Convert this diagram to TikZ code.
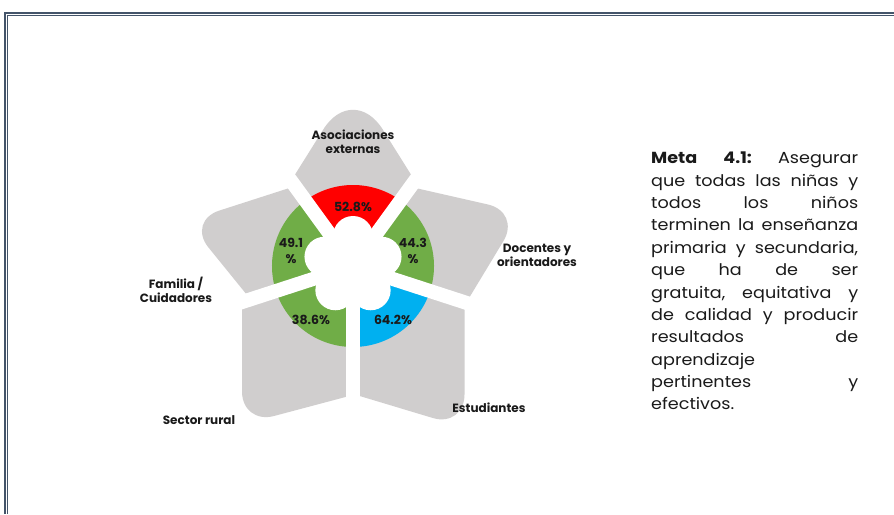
\documentclass[tikz,border=0pt]{standalone}
\usepackage{fontspec}
\setmainfont{Poppins}
\newfontfamily\metafont[FakeStretch=1.1]{Poppins}
\definecolor{framec}{HTML}{44546A}
\definecolor{petalc}{HTML}{D0CECE}
\definecolor{redc}{HTML}{FF0000}
\definecolor{greenc}{HTML}{70AD47}
\definecolor{bluec}{HTML}{00B0F0}
\definecolor{txtc}{HTML}{1A1A1A}
\newcommand{\jline}[1]{\makebox[207pt][l]{#1}}
\tikzset{
  lbl/.style={font=\fontsize{12}{14}\selectfont\bfseries, text=txtc, align=center, inner sep=0},
  pct/.style={font=\fontsize{12.5}{16}\selectfont\bfseries, text=txtc, align=center, inner sep=0},
  gapline/.style={white, line width=14pt},
  petal/.style={fill=petalc},
}
\begin{document}
\begin{tikzpicture}[x=1pt,y=-1pt]
\useasboundingbox (0,0) rectangle (894,514);
\fill[white] (0,0) rectangle (894,514);
% frame
\draw[framec, line width=1.1pt] (5,514) -- (5,13) -- (894,13);
\draw[framec, line width=1.1pt] (7.6,514) -- (7.6,15.6) -- (894,15.6);
% centre
\coordinate (C) at (353,266);
% petals
\fill[petal] (C) -- (291,181) [rounded corners=56pt] -- (353,82) [sharp corners] -- (415,181) -- cycle;
\fill[petal] (C) -- (411,187) [rounded corners=34pt] -- (521,212) [sharp corners] -- (466,303) -- cycle;
\fill[petal] (C) -- (464.5,302) [rounded corners=33pt] -- (464.5,427.5) [sharp corners] -- (353,394) -- cycle;
\fill[petal] (C) -- (353,395) [rounded corners=33pt] -- (242,424.5) [sharp corners] -- (242,302) -- cycle;
\fill[petal] (C) -- (250.5,299.3) [rounded corners=34pt] -- (187,221) [sharp corners] -- (295,186.2) -- cycle;
% ring
\begin{scope}[shift={(C)}, yscale=-1]
\fill[redc]   (0,0) -- (54:81)  arc[start angle=54,  end angle=126, radius=81] -- cycle;
\fill[greenc] (0,0) -- (126:81) arc[start angle=126, end angle=198, radius=81] -- cycle;
\fill[greenc] (0,0) -- (198:81) arc[start angle=198, end angle=270, radius=81] -- cycle;
\fill[bluec]  (0,0) -- (270:81) arc[start angle=270, end angle=342, radius=81] -- cycle;
\fill[greenc] (0,0) -- (-18:81) arc[start angle=-18, end angle=54,  radius=81] -- cycle;
\foreach \a in {54,126,198,270,342} \draw[gapline] (0,0) -- (\a:235);
\fill[white] (0,0) circle (31);
\foreach \m in {90,162,234,306,18} \fill[white] (\m:30) circle (20);
\end{scope}
% percentages
\node[pct] (p1) at (353,207) {52.8\%};
\node[pct] (p2) at (291,251) {49.1\\\%};
\node[pct] (p3) at (413,251) {44.3\\\%};
\node[pct] (p4) at (311,320) {38.6\%};
\node[pct] (p5) at (393,320) {64.2\%};
% labels
\node[lbl] (l1) at (353,142) {Asociaciones\\externas};
\node[lbl] (l2) at (537,255) {Docentes y\\orientadores};
\node[lbl] (l3) at (176,290) {Familia /\\Cuidadores};
\node[lbl] (l4) at (199,420) {Sector rural};
\node[lbl] (l5) at (489,408) {Estudiantes};
% text
\node[anchor=north west, inner sep=0, text width=207pt, text=txtc,
      font=\fontsize{16}{22.36}\selectfont\metafont] (meta) at (651,152) {%
\jline{\textbf{Meta}\hfill\textbf{4.1:}\hfill Asegurar}\\
\jline{que\hfill todas\hfill las\hfill niñas\hfill y}\\
\jline{todos\hfill los\hfill niños}\\
\jline{terminen\hfill la\hfill enseñanza}\\
\jline{primaria\hfill y\hfill secundaria,}\\
\jline{que\hfill ha\hfill de\hfill ser}\\
\jline{gratuita,\hfill equitativa\hfill y}\\
\jline{de\hfill calidad\hfill y\hfill producir}\\
\jline{resultados\hfill de}\\
aprendizaje\\
\jline{pertinentes\hfill y}\\
efectivos.};
\end{tikzpicture}
\end{document}
